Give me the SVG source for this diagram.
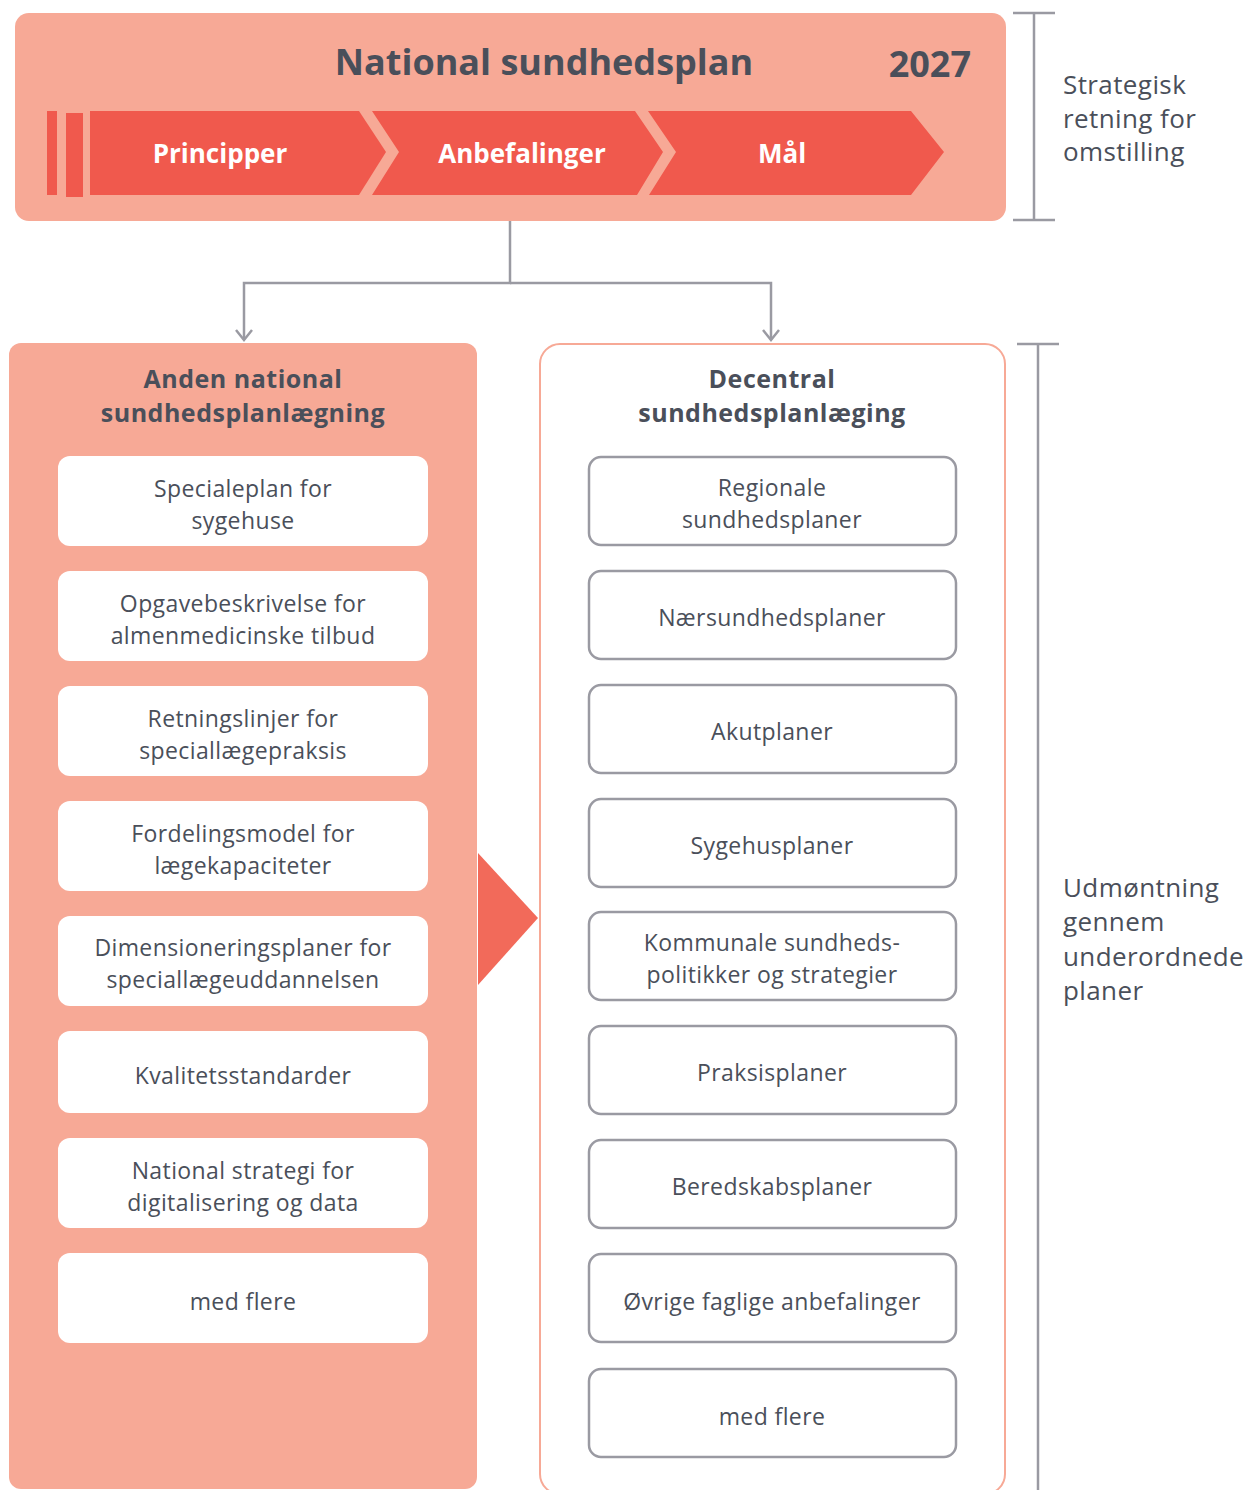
<svg xmlns="http://www.w3.org/2000/svg" width="1247" height="1490" viewBox="0 0 1247 1490">
<defs>
<style>
text{font-family:"Open Sans","Liberation Sans",sans-serif;fill:#4A4F5A;}
.title{font-size:36px;font-weight:700;}
.chev{font-size:26px;font-weight:700;fill:#FFFFFF;text-anchor:middle;}
.ptitle{font-size:25px;letter-spacing:0.5px;font-weight:700;text-anchor:middle;}
.item{font-size:23px;letter-spacing:0.4px;text-anchor:middle;}
.side{font-size:26px;letter-spacing:0.4px;}
.lbox{fill:#FFFFFF;}
.rbox{fill:#FFFFFF;stroke:#9A9AA2;stroke-width:2.5;}
.conn{fill:none;stroke:#9A9AA2;stroke-width:2.5;}
.red{fill:#F0594D;}
</style>
<marker id="arr" viewBox="0 0 20 20" refX="18" refY="10" markerWidth="20" markerHeight="20" markerUnits="userSpaceOnUse" orient="auto">
<path d="M8,2 L18,10 L8,18" fill="none" stroke="#9A9AA2" stroke-width="2.5"/>
</marker>
</defs>

<g id="national-plan">
<rect x="15" y="13" width="991" height="208" rx="14" fill="#F7A996"/>
<text class="title" x="544" y="75" text-anchor="middle">National sundhedsplan</text>
<text class="title" x="971" y="77" text-anchor="end">2027</text>
<rect class="red" x="47" y="111" width="10" height="84"/>
<rect class="red" x="66" y="113" width="17" height="84"/>
<g id="principper">
<polygon class="red" points="90,111 359,111 386,152 359,195 90,195"/>
<text class="chev" x="220" y="163">Principper</text>
</g>
<g id="anbefalinger">
<polygon class="red" points="372,111 635,111 663,152 637,195 372,195 399,152"/>
<text class="chev" x="522" y="163">Anbefalinger</text>
</g>
<g id="maal">
<polygon class="red" points="648,111 911,111 944,152 911,195 649,195 676,152"/>
<text class="chev" x="782" y="163">Mål</text>
</g>
</g>

<g id="connectors">
<polyline class="conn" points="510,221 510,283 244,283 244,340" marker-end="url(#arr)"/>
<polyline class="conn" points="510,283 771,283 771,340" marker-end="url(#arr)"/>
<polygon points="478,853 538,918 478,985" fill="#F26A5A"/>
</g>

<g id="brackets">
<line class="conn" x1="1034" y1="13" x2="1034" y2="220"/>
<line class="conn" x1="1013" y1="13" x2="1055" y2="13"/>
<line class="conn" x1="1013" y1="220" x2="1055" y2="220"/>
<line class="conn" x1="1038" y1="343" x2="1038" y2="1492"/>
<line class="conn" x1="1017" y1="344" x2="1059" y2="344"/>
</g>

<g id="side-top">
<text class="side" x="1063" y="94">Strategisk</text>
<text class="side" x="1063" y="128">retning for</text>
<text class="side" x="1063" y="161">omstilling</text>
</g>
<g id="side-bottom">
<text class="side" x="1063" y="897">Udmøntning</text>
<text class="side" x="1063" y="931">gennem</text>
<text class="side" x="1063" y="966">underordnede</text>
<text class="side" x="1063" y="1000">planer</text>
</g>

<g id="left-panel">
<rect x="9" y="343" width="468" height="1146" rx="12" fill="#F7A996"/>
<text class="ptitle" x="243" y="388">Anden national</text>
<text class="ptitle" x="243" y="422">sundhedsplanlægning</text>
</g>
<g id="l1"><rect class="lbox" x="58" y="456" width="370" height="90" rx="12"/><text class="item" x="243" y="497">Specialeplan for</text><text class="item" x="243" y="529">sygehuse</text></g>
<g id="l2"><rect class="lbox" x="58" y="571" width="370" height="90" rx="12"/><text class="item" x="243" y="612">Opgavebeskrivelse for</text><text class="item" x="243" y="644">almenmedicinske tilbud</text></g>
<g id="l3"><rect class="lbox" x="58" y="686" width="370" height="90" rx="12"/><text class="item" x="243" y="727">Retningslinjer for</text><text class="item" x="243" y="759">speciallægepraksis</text></g>
<g id="l4"><rect class="lbox" x="58" y="801" width="370" height="90" rx="12"/><text class="item" x="243" y="842">Fordelingsmodel for</text><text class="item" x="243" y="874">lægekapaciteter</text></g>
<g id="l5"><rect class="lbox" x="58" y="916" width="370" height="90" rx="12"/><text class="item" x="243" y="956">Dimensioneringsplaner for</text><text class="item" x="243" y="988">speciallægeuddannelsen</text></g>
<g id="l6"><rect class="lbox" x="58" y="1031" width="370" height="82" rx="12"/><text class="item" x="243" y="1084">Kvalitetsstandarder</text></g>
<g id="l7"><rect class="lbox" x="58" y="1138" width="370" height="90" rx="12"/><text class="item" x="243" y="1179">National strategi for</text><text class="item" x="243" y="1211">digitalisering og data</text></g>
<g id="l8"><rect class="lbox" x="58" y="1253" width="370" height="90" rx="12"/><text class="item" x="243" y="1310">med flere</text></g>

<g id="right-panel">
<rect x="540" y="344" width="465" height="1150" rx="20" fill="#FFFFFF" stroke="#F7A996" stroke-width="2"/>
<text class="ptitle" x="772" y="388">Decentral</text>
<text class="ptitle" x="772" y="422">sundhedsplanlæging</text>
</g>
<g id="r1"><rect class="rbox" x="589" y="457" width="367" height="88" rx="12"/><text class="item" x="772" y="496">Regionale</text><text class="item" x="772" y="528">sundhedsplaner</text></g>
<g id="r2"><rect class="rbox" x="589" y="571" width="367" height="88" rx="12"/><text class="item" x="772" y="626">Nærsundhedsplaner</text></g>
<g id="r3"><rect class="rbox" x="589" y="685" width="367" height="88" rx="12"/><text class="item" x="772" y="740">Akutplaner</text></g>
<g id="r4"><rect class="rbox" x="589" y="799" width="367" height="88" rx="12"/><text class="item" x="772" y="854">Sygehusplaner</text></g>
<g id="r5"><rect class="rbox" x="589" y="912" width="367" height="88" rx="12"/><text class="item" x="772" y="951">Kommunale sundheds-</text><text class="item" x="772" y="983">politikker og strategier</text></g>
<g id="r6"><rect class="rbox" x="589" y="1026" width="367" height="88" rx="12"/><text class="item" x="772" y="1081">Praksisplaner</text></g>
<g id="r7"><rect class="rbox" x="589" y="1140" width="367" height="88" rx="12"/><text class="item" x="772" y="1195">Beredskabsplaner</text></g>
<g id="r8"><rect class="rbox" x="589" y="1254" width="367" height="88" rx="12"/><text class="item" x="772" y="1310">Øvrige faglige anbefalinger</text></g>
<g id="r9"><rect class="rbox" x="589" y="1369" width="367" height="88" rx="12"/><text class="item" x="772" y="1425">med flere</text></g>
</svg>
